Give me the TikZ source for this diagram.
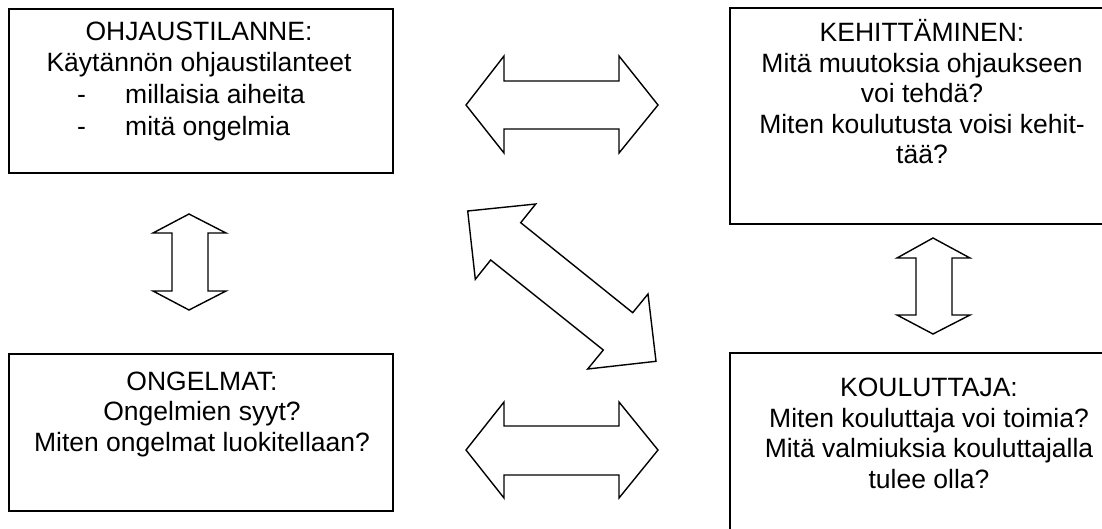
\documentclass[tikz,border=0pt]{standalone}
\usepackage{fontspec}
\setmainfont{Liberation Sans}
\begin{document}
\begin{tikzpicture}[x=1pt,y=-1pt,
  box/.style={draw=black,line width=1.6pt,inner sep=0pt},
  blockarrow/.style={draw=black,line width=1.4pt,line join=miter,fill=white},
  txt/.style={inner sep=0pt,font=\fontsize{26.5}{30.4}\selectfont,align=center},
  linetxt/.style={inner sep=0pt,font=\fontsize{26.5}{30.4}\selectfont}]
\useasboundingbox (0,0) rectangle (1102,528);
% boxes
\node[box,minimum width=384pt,minimum height=164pt] (ohj) at (201,91) {};
\node[box,minimum width=382pt,minimum height=216pt] (keh) at (921,116) {};
\node[box,minimum width=384pt,minimum height=157pt] (ong) at (201,432.5) {};
\node[box,minimum width=382pt,minimum height=207pt] (kou) at (921,456.5) {};
% texts
\node[linetxt,anchor=base] (t1a) at (199,40) {OHJAUSTILANNE:};
\node[linetxt,anchor=base] (t1b) at (199,71.7) {Käytännön ohjaustilanteet};
\node[linetxt,anchor=base west] (d1) at (77,103.4) {-};
\node[linetxt,anchor=base west] (t1c) at (125,103.4) {millaisia aiheita};
\node[linetxt,anchor=base west] (d2) at (77,135) {-};
\node[linetxt,anchor=base west] (t1d) at (125,135) {mitä ongelmia};
\node[txt,anchor=north] (t2) at (922,15.2) {\rule{0pt}{26.5pt}KEHITTÄMINEN:\\Mitä muutoksia ohjaukseen\\voi tehdä?\\Miten koulutusta voisi kehit-\\tää?};
\node[txt,anchor=north] (t3) at (202,363.5) {\rule{0pt}{26.5pt}ONGELMAT:\\Ongelmien syyt?\\Miten ongelmat luokitellaan?};
\node[txt,anchor=north] (t4) at (929,370.2) {\rule{0pt}{26.5pt}KOULUTTAJA:\\Miten kouluttaja voi toimia?\\Mitä valmiuksia kouluttajalla\\tulee olla?};
% block arrows
\draw[blockarrow] (466,105) -- (504,56) -- (504,81) -- (619,81) -- (619,56) -- (658,105)
  -- (619,153) -- (619,129) -- (504,129) -- (504,153) -- cycle;
\draw[blockarrow] (466,450) -- (504,402) -- (504,426) -- (619,426) -- (619,402) -- (658,450)
  -- (619,498) -- (619,475) -- (504,475) -- (504,498) -- cycle;
\draw[blockarrow] (189,214) -- (226,233) -- (208,233) -- (208,291) -- (226,291) -- (189,310)
  -- (153,291) -- (172,291) -- (172,233) -- (153,233) -- cycle;
\draw[blockarrow] (933,238) -- (970,258) -- (952,258) -- (952,315) -- (970,315) -- (933,334)
  -- (897,315) -- (916,315) -- (916,258) -- (897,258) -- cycle;
\draw[blockarrow] (467.7,211) -- (535.7,204) -- (520.7,222.7) -- (632.7,312.7) -- (648,294)
  -- (656,361.3) -- (587.7,369) -- (603.3,350) -- (490.7,260) -- (475.3,279.3) -- cycle;
\end{tikzpicture}
\end{document}
